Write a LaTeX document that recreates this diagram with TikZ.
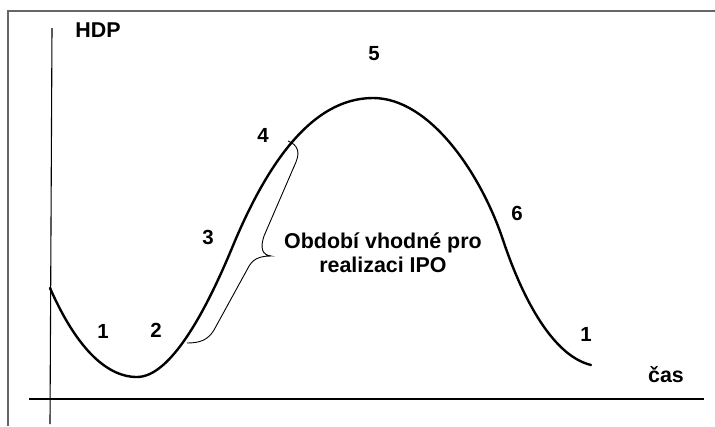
\documentclass[tikz,border=0pt]{standalone}
\usepackage{fontspec}
\setmainfont{Liberation Sans}
\usetikzlibrary{positioning}
\tikzset{
  frm/.style = {draw=black!60, line width=1.4pt},
  axs/.style = {line width=1.1pt},
  crv/.style = {line width=2.4pt, line cap=round},
  brc/.style = {line width=0.9pt},
  num/.style = {font=\fontsize{20.5}{24}\selectfont\bfseries, inner sep=0pt},
  lbl/.style = {font=\fontsize{21.5}{24}\selectfont\bfseries, inner sep=0pt,
                align=center},
}
\begin{document}
\begin{tikzpicture}[x=1bp, y=-1bp]
  \useasboundingbox (0,0) rectangle (715,426);
  % ---- frame ----
  \draw[frm] (8,426) -- (8,11) -- (715,11);

  % ---- axes ----
  \coordinate (yb) at (50,424);  \coordinate (yt) at (52,28);
  \coordinate (xl) at (29,399);  \coordinate (xr) at (704,399);
  \draw[axs] (yb) -- (yt);
  \draw[axs] (xl) -- (xr);
  \node[lbl] (hdp) at (98,30) {HDP};
  \node[lbl, anchor=base] (cas) at (666,382) {čas};

  % ---- life cycle curve ----
  \coordinate (c0) at (50,288);   \coordinate (c1) at (137,377);
  \coordinate (c2) at (232,248);  \coordinate (c3) at (373,98);
  \coordinate (c4) at (503,240);  \coordinate (c5) at (591,365);
  \draw[crv] (c0) .. controls (75,345) and (105,377) .. (c1)
                  .. controls (170,377) and (205,313) .. (c2)
                  .. controls (265,168) and (310,98) .. (c3)
                  .. controls (430,98) and (481,174) .. (c4)
                  .. controls (520,291) and (550,355) .. (c5);

  \node[num] (n1a) at (103,331) {1};
  \node[num] (n2)  at (156,330) {2};
  \node[num] (n3)  at (208,237) {3};
  \node[num] (n4)  at (263,135) {4};
  \node[num] (n5)  at (374,54)  {5};
  \node[num] (n6)  at (517,213) {6};
  \node[num] (n1b) at (586,334) {1};

  % ---- brace ----
  \coordinate (bt) at (288,141);
  \coordinate (bb) at (187,343);
  \coordinate (tip) at (271,256);
  \draw[brc] (bt) .. controls (298,145) and (300,152) .. (296,162)
             -- (264,236) .. controls (260,248) and (262,255) .. (tip)
             .. controls (258,256) and (252,260) .. (248,268)
             -- (214,330) .. controls (208,340) and (200,343) .. (bb);
  \node[lbl, right=13bp of tip, yshift=3bp] (txt)
       {Období vhodné pro\\realizaci IPO};
\end{tikzpicture}
\end{document}
